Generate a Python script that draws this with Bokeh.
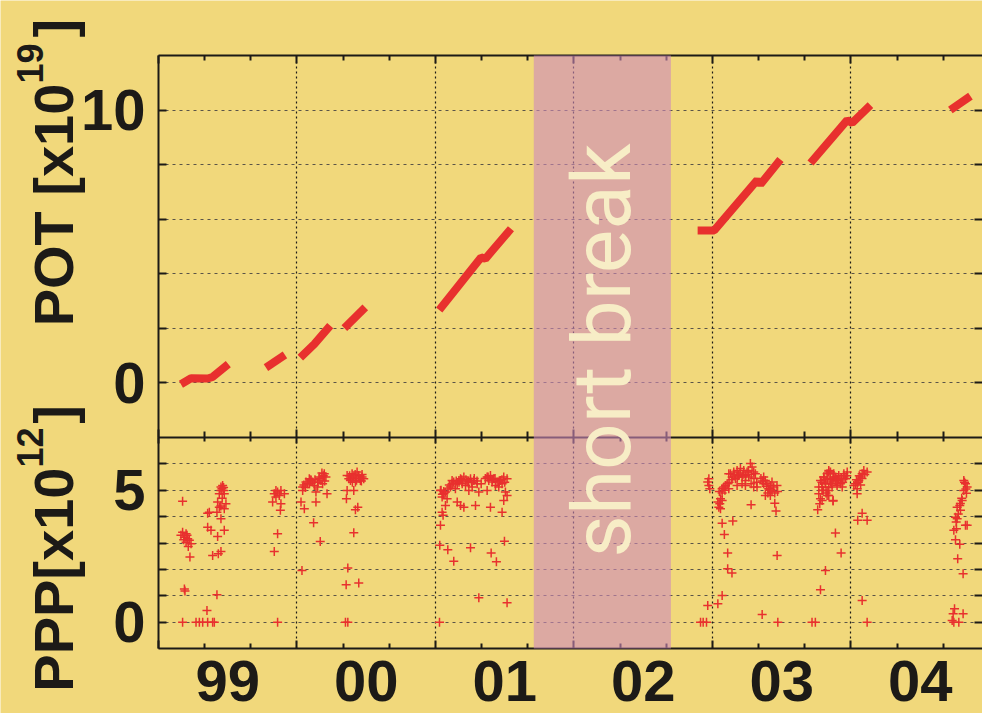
import math
from bokeh.plotting import figure
from bokeh.models import Range1d, LinearAxis, FixedTicker, Grid, BoxAnnotation, Label
from bokeh.embed import file_html
from bokeh.resources import INLINE

# ---------------------------------------------------------------- data
# accumulated protons on target [x10^19], one list per running period
pot_year = [
    [1999.162, 1999.235, 1999.355, 1999.391, 1999.504],
    [1999.776, 1999.913],
    [2000.024, 2000.125, 2000.240],
    [2000.342, 2000.493],
    [2001.027, 2001.329, 2001.360, 2001.545],
    [2002.893, 2003.013, 2003.323, 2003.347, 2003.491],
    [2003.708, 2003.973, 2004.009, 2004.141],
    [2004.718, 2004.863],
]
pot_value = [
    [-0.05, 0.17, 0.16, 0.22, 0.69],
    [0.56, 1.03],
    [0.93, 1.42, 2.10],
    [2.01, 2.77],
    [2.67, 4.60, 4.55, 5.65],
    [5.59, 5.59, 7.43, 7.28, 8.19],
    [8.06, 9.63, 9.53, 10.18],
    [10.00, 10.51],
]

# protons per pulse [x10^12]
ppp_year = [
    1999.174, 1999.174, 1999.199, 1999.187, 1999.211, 1999.223, 1999.199, 1999.235, 1999.215,
    1999.206, 1999.182, 1999.162, 1999.227, 1999.187, 1999.191,
    1999.174, 1999.271, 1999.295, 1999.319, 1999.355, 1999.391, 1999.403,
    1999.350, 1999.422, 1999.355, 1999.367, 1999.355, 1999.379, 1999.427, 1999.475, 1999.451,
    1999.391, 1999.432, 1999.451,
    1999.463, 1999.451, 1999.439, 1999.475, 1999.427, 1999.487, 1999.475, 1999.439, 1999.451,
    1999.458, 1999.470, 1999.422, 1999.460, 1999.450, 1999.470,
    1999.860, 1999.836,
    1999.836, 1999.860, 1999.884, 1999.848, 1999.824, 1999.872, 1999.909, 1999.884, 1999.880,
    1999.848, 1999.860,
    2000.036, 2000.041, 2000.029, 2000.053, 2000.041, 2000.065, 2000.089, 2000.113, 2000.125,
    2000.137, 2000.149, 2000.173, 2000.197, 2000.209, 2000.185, 2000.217, 2000.137, 2000.120,
    2000.168, 2000.077, 2000.101, 2000.161,
    2000.050, 2000.090, 2000.130, 2000.160, 2000.190, 2000.200, 2000.060, 2000.100, 2000.150,
    2000.180,
    2000.362, 2000.398, 2000.434, 2000.470, 2000.386, 2000.422, 2000.458, 2000.374, 2000.446,
    2000.410, 2000.482, 2000.362, 2000.357, 2000.410, 2000.422, 2000.439, 2000.410,
    2000.390, 2000.420, 2000.450, 2000.470, 2000.380, 2000.430, 2000.400, 2000.465,
    2000.367, 2000.355, 2000.446, 2000.350, 2000.367,
    2001.029,
    2001.036, 2001.060, 2001.048, 2001.072, 2001.084, 2001.108, 2001.132, 2001.157, 2001.181,
    2001.205, 2001.229, 2001.253, 2001.277, 2001.301, 2001.265, 2001.241, 2001.217, 2001.144,
    2001.120, 2001.169, 2001.193, 2001.313, 2001.373, 2001.397, 2001.421, 2001.445, 2001.469,
    2001.493, 2001.517, 2001.457, 2001.433, 2001.409, 2001.385, 2001.481, 2001.505, 2001.517,
    2001.493, 2001.481, 2001.397, 2001.373, 2001.289, 2001.205, 2001.157, 2001.181, 2001.072,
    2001.048, 2001.055, 2001.036, 2001.031, 2001.089, 2001.132, 2001.253, 2001.402, 2001.440,
    2001.498, 2001.313, 2001.517,
    2001.040, 2001.060, 2001.100, 2001.120, 2001.150, 2001.170, 2001.190, 2001.220, 2001.240,
    2001.260, 2001.280, 2001.300, 2001.330, 2001.360, 2001.380, 2001.410, 2001.430, 2001.460,
    2001.480, 2001.500, 2001.050, 2001.090,
    2002.974, 2002.974, 2002.981, 2002.966,
    2003.058, 2003.053, 2003.046, 2003.058, 2003.039, 2003.070,
    2003.082, 2003.094, 2003.106, 2003.070, 2003.118, 2003.130, 2003.154, 2003.178, 2003.202,
    2003.226, 2003.250, 2003.274, 2003.286, 2003.298, 2003.262, 2003.238, 2003.214, 2003.190,
    2003.166, 2003.142, 2003.118, 2003.310, 2003.322, 2003.279, 2003.238, 2003.214, 2003.178,
    2003.370, 2003.382, 2003.394, 2003.418, 2003.442, 2003.466, 2003.430, 2003.406, 2003.382,
    2003.418, 2003.450, 2003.459, 2003.279, 2003.298,
    2003.050, 2003.070, 2003.090, 2003.120, 2003.140, 2003.160, 2003.180, 2003.200, 2003.220,
    2003.240, 2003.260, 2003.280, 2003.300, 2003.320, 2003.360, 2003.390, 2003.410, 2003.430,
    2003.450, 2003.470, 2003.350, 2003.370, 2003.400,
    2003.070, 2003.147, 2003.086, 2003.110, 2003.110, 2003.141, 2003.070, 2003.039, 2002.966,
    2003.359, 2002.914, 2002.933, 2002.957, 2003.472, 2003.467,
    2003.719, 2003.743, 2003.780, 2003.816, 2003.888,
    2003.780, 2003.804, 2003.828, 2003.852, 2003.840, 2003.768, 2003.792, 2003.816, 2003.876,
    2003.900, 2003.780, 2003.775, 2003.760, 2003.828, 2003.871, 2003.768,
    2003.804, 2003.840, 2003.876, 2003.912, 2003.949, 2003.973, 2003.816, 2003.852, 2003.888,
    2003.924, 2003.961, 2003.792, 2003.828, 2003.864, 2003.900, 2003.937,
    2003.790, 2003.810, 2003.830, 2003.850, 2003.870, 2003.890, 2003.910, 2003.930, 2003.950,
    2003.970, 2003.800, 2003.840, 2003.860, 2003.900, 2003.940, 2003.820,
    2003.792, 2003.871, 2003.840, 2003.929,
    2004.081, 2004.117,
    2004.033, 2004.057, 2004.081, 2004.093, 2004.117, 2004.069, 2004.045, 2004.021, 2004.045,
    2004.040, 2004.060, 2004.080, 2004.100, 2004.050, 2004.070,
    2004.081, 2004.049, 2004.117,
    2004.815, 2004.827, 2004.839, 2004.815, 2004.834, 2004.803, 2004.786, 2004.767, 2004.791,
    2004.755, 2004.767, 2004.827, 2004.743, 2004.762, 2004.755, 2004.786, 2004.771, 2004.810,
    2004.839, 2004.820, 2004.830, 2004.800, 2004.790, 2004.775, 2004.760,
    2004.748, 2004.738, 2004.779, 2004.743, 2004.731, 2004.810,
]
ppp_value = [
    4.58, 3.41, 3.35, 3.22, 3.16, 3.10, 3.03, 2.97, 2.87,
    3.29, 3.12, 3.29, 2.47, 1.26, 1.18,
    0.00, 0.00, 0.00, 0.00, 0.00, 0.00, 0.00,
    0.44, 1.04, 4.13, 4.17, 3.60, 3.48, 3.25, 3.48, 3.92,
    2.53, 2.59, 2.68,
    5.18, 4.99, 4.87, 4.87, 4.55, 4.49, 4.30, 4.36, 5.12,
    5.06, 4.99, 4.17, 4.70, 4.40, 5.10,
    3.35, 2.68,
    4.87, 4.93, 4.99, 4.74, 4.55, 4.80, 4.87, 4.49, 4.24,
    4.99, 0.00,
    1.96, 4.99, 4.55, 4.30, 5.12, 5.31, 5.44, 5.31, 5.18,
    4.93, 5.12, 5.37, 5.63, 5.50, 5.25, 4.87, 4.55, 3.77,
    3.06, 5.25, 5.37, 5.50,
    5.20, 5.25, 5.40, 5.45, 5.55, 5.35, 5.10, 5.40, 5.30,
    5.65,
    5.56, 5.63, 5.69, 5.50, 5.37, 5.31, 5.37, 5.44, 5.56,
    5.50, 5.44, 4.99, 4.68, 4.99, 4.26, 4.36, 3.39,
    5.45, 5.60, 5.45, 5.60, 5.55, 5.38, 5.30, 5.35,
    2.05, 1.42, 1.48, 0.00, 0.00,
    0.00,
    4.99, 4.87, 4.74, 4.93, 4.68, 5.12, 5.31, 5.25, 5.44,
    5.50, 5.31, 5.44, 5.37, 5.25, 5.12, 4.99, 5.18, 5.06,
    5.37, 5.37, 5.25, 4.93, 5.50, 5.56, 5.44, 5.31, 5.37,
    5.50, 5.44, 5.12, 5.18, 5.31, 5.37, 5.25, 4.93, 4.80,
    4.61, 4.17, 4.36, 4.99, 4.42, 4.36, 4.55, 4.42, 4.42,
    4.17, 4.05, 3.67, 2.91, 2.74, 2.31, 2.82, 2.62, 2.29,
    3.07, 0.92, 0.73,
    5.00, 4.95, 5.20, 5.25, 5.35, 5.30, 5.40, 5.40, 5.35,
    5.30, 5.45, 5.35, 5.25, 5.45, 5.50, 5.40, 5.45, 5.35,
    5.40, 5.30, 4.85, 5.05,
    5.44, 5.18, 5.06, 5.31,
    4.68, 4.49, 4.36, 4.30, 4.55, 4.61,
    5.12, 5.18, 5.25, 5.06, 5.06, 5.63, 5.69, 5.75, 5.82,
    5.75, 5.69, 6.01, 5.88, 5.69, 5.50, 5.37, 5.50, 5.56,
    5.44, 5.50, 5.63, 5.63, 5.12, 5.25, 5.18, 5.25, 5.18,
    5.50, 5.37, 5.25, 5.18, 5.12, 5.18, 5.31, 5.06, 4.80,
    4.80, 4.51, 4.21, 4.45, 5.12,
    4.95, 4.90, 5.00, 5.30, 5.40, 5.60, 5.50, 5.65, 5.60,
    5.55, 5.75, 5.60, 5.45, 5.30, 5.35, 5.15, 5.00, 4.95,
    4.90, 4.95, 5.45, 5.25, 4.90,
    3.75, 3.83, 3.32, 2.62, 2.02, 1.86, 1.01, 0.70, 0.63,
    0.29, 0.00, 0.00, 0.00, 0.00, 2.53,
    0.00, 0.00, 1.23, 1.96, 3.38,
    5.37, 5.50, 5.63, 5.69, 5.75, 5.12, 4.99, 5.25, 5.50,
    5.37, 4.68, 4.49, 4.26, 4.80, 4.61, 4.87,
    5.50, 5.69, 5.63, 5.56, 5.63, 5.69, 5.25, 5.31, 5.37,
    5.25, 5.44, 5.12, 4.99, 5.12, 5.18, 5.12,
    5.30, 5.40, 5.45, 5.40, 5.45, 5.50, 5.40, 5.45, 5.50,
    5.55, 5.00, 5.10, 5.25, 5.25, 5.30, 4.90,
    4.61, 4.59, 4.80, 2.62,
    0.82, 0.00,
    5.25, 5.37, 5.63, 5.75, 5.69, 5.50, 5.06, 5.18, 4.87,
    5.40, 5.55, 5.45, 5.60, 5.30, 5.20,
    4.13, 3.86, 3.86,
    5.37, 5.25, 5.12, 4.99, 4.89, 4.61, 4.42, 4.36, 4.24,
    3.98, 3.92, 3.67, 3.48, 3.54, 3.12, 2.95, 2.40, 1.83,
    3.67, 5.30, 5.05, 4.70, 4.50, 4.10, 3.80,
    0.51, 0.32, 0.00, 0.00, 0.06, 0.32,
]

# x axis: year boundaries, four-month minor ticks, labels mid-year
year_edges = [1999, 2000, 2001, 2002, 2003, 2004, 2005]
year_thirds = [y + f for y in year_edges[:-1] for f in (1 / 3, 2 / 3)]
year_label_pos = [1999.5, 2000.5, 2001.5, 2002.5, 2003.5, 2004.5]
year_labels = ["99", "00", "01", "02", "03", "04"]

# shutdown period
break_start, break_end = 2001.71, 2002.70

# y axes
pot_labelled = [0, 10]
pot_unlabelled = [2, 4, 6, 8]
ppp_labelled = [0, 5]
ppp_unlabelled = [1, 2, 3, 4, 6]

# ---------------------------------------------------------------- style
RED = "#e8302e"
BG = "#f1d87b"
INK = "#1c1a17"
GRID = "#5a5448"
FONT = "Liberation Sans"

W, H = 982, 713
LEFT, TOP, BOTTOM = 158, 55, 65          # margins around the two panels, px
TOP_PANEL, BOTTOM_PANEL = 382, 211       # panel heights, px
PANEL_W = W - LEFT

x_lo, x_hi = 1999.0, 2004.95
pot_lo, pot_hi = -2, 12
ppp_lo, ppp_hi = -1, 7


def padded(lo, hi, span_px, below_px, above_px):
    """Range whose [lo, hi] part occupies span_px of the canvas."""
    per_px = (hi - lo) / span_px
    return Range1d(lo - below_px * per_px, hi + above_px * per_px)


# the frame is the whole canvas; each panel is placed by its own range
x_range = padded(x_lo, x_hi, PANEL_W, LEFT, 0)
pot_range = padded(pot_lo, pot_hi, TOP_PANEL, H - TOP - TOP_PANEL, TOP)
ppp_range = padded(ppp_lo, ppp_hi, BOTTOM_PANEL, BOTTOM, H - BOTTOM - BOTTOM_PANEL)
panel_floor = pot_lo - BOTTOM_PANEL * (pot_hi - pot_lo) / TOP_PANEL   # lower panel bottom, POT units

p = figure(width=W, height=H, x_range=x_range, y_range=pot_range,
           x_axis_location=None, y_axis_location=None,
           output_backend="svg", toolbar_location=None,
           min_border_left=0, min_border_right=0, min_border_top=0, min_border_bottom=0,
           background_fill_color=BG, border_fill_color=BG, outline_line_color=None)
p.center = []
p.extra_y_ranges = {"ppp": ppp_range}

# ---------------------------------------------------------------- grids
grid_style = dict(grid_line_color=GRID, grid_line_dash="3 4", grid_line_width=1,
                  minor_grid_line_color=GRID, minor_grid_line_dash="3 4",
                  minor_grid_line_width=1, cross_bounds=(x_lo, x_hi))
p.add_layout(Grid(dimension=1, ticker=FixedTicker(ticks=pot_labelled, minor_ticks=pot_unlabelled),
                  **grid_style), "center")
p.add_layout(Grid(dimension=1, y_range_name="ppp",
                  ticker=FixedTicker(ticks=ppp_labelled, minor_ticks=ppp_unlabelled),
                  **grid_style), "center")
p.add_layout(Grid(dimension=0, ticker=FixedTicker(ticks=year_edges[1:-1]),
                  cross_bounds=(panel_floor, pot_hi),
                  grid_line_color=INK, grid_line_dash="2 3", grid_line_width=1.2), "center")

# ---------------------------------------------------------------- data marks
p.multi_line(xs=pot_year, ys=pot_value, line_color=RED, line_width=8)
p.scatter(x=ppp_year, y=ppp_value, y_range_name="ppp", marker="cross", size=9,
          line_color=RED, line_width=1.5)


# ---------------------------------------------------------------- axes
def tick_axis(side, fixed, ticks, tick_in, tick_out, bounds, y_range_name="default", line=True):
    ax = LinearAxis(ticker=FixedTicker(ticks=[], minor_ticks=ticks),
                    fixed_location=fixed, y_range_name=y_range_name, bounds=bounds,
                    minor_tick_in=tick_in, minor_tick_out=tick_out,
                    minor_tick_line_color=INK, minor_tick_line_width=2,
                    major_tick_line_color=None,
                    axis_line_color=INK if line else None, axis_line_width=2)
    p.add_layout(ax, side)


xb = (x_lo, x_hi)
# top of the upper panel, the divider between panels, bottom of the lower panel
tick_axis("above", pot_hi, year_edges, 8, 0, xb)
tick_axis("above", pot_hi, year_thirds, 5, 0, xb, line=False)
tick_axis("below", pot_lo, year_edges, 8, 6, xb)
tick_axis("below", pot_lo, year_thirds, 6, 4, xb, line=False)
tick_axis("below", ppp_lo, year_edges, 8, 0, xb, y_range_name="ppp")
tick_axis("below", ppp_lo, year_thirds, 5, 0, xb, y_range_name="ppp", line=False)

# right edge
tick_axis("right", x_hi, pot_labelled + pot_unlabelled, 8, 0, (pot_lo, pot_hi), line=False)
tick_axis("right", x_hi, ppp_labelled + ppp_unlabelled, 8, 0, (ppp_lo, ppp_hi),
          y_range_name="ppp", line=False)

label_style = dict(major_label_text_font=FONT, major_label_text_font_size="58px",
                   major_label_text_font_style="bold", major_label_text_color=INK)

for rng, lab, unlab, bnd in (("default", pot_labelled, pot_unlabelled, (pot_lo, pot_hi)),
                             ("ppp", ppp_labelled, ppp_unlabelled, (ppp_lo, ppp_hi))):
    ax = LinearAxis(ticker=FixedTicker(ticks=lab, minor_ticks=unlab),
                    fixed_location=x_lo, y_range_name=rng, bounds=bnd,
                    major_tick_in=8, major_tick_out=0, minor_tick_in=8, minor_tick_out=0,
                    major_tick_line_color=INK, minor_tick_line_color=INK,
                    major_tick_line_width=2, minor_tick_line_width=2,
                    axis_line_color=INK, axis_line_width=2,
                    major_label_standoff=13, **label_style)
    p.add_layout(ax, "left")

year_axis = LinearAxis(ticker=FixedTicker(ticks=year_label_pos),
                       fixed_location=ppp_lo, y_range_name="ppp", bounds=xb,
                       major_label_overrides=dict(zip(year_label_pos, year_labels)),
                       major_tick_in=0, major_tick_out=0,
                       major_tick_line_color=None, minor_tick_line_color=None,
                       axis_line_color=None, major_label_standoff=12, **label_style)
p.add_layout(year_axis, "below")

# ---------------------------------------------------------------- break band
p.add_layout(BoxAnnotation(left=break_start, right=break_end, top=pot_hi, bottom=panel_floor,
                           fill_color="#ce8bbd", fill_alpha=0.6, line_color=None,
                           level="annotation"))
p.add_layout(Label(x=2002.199, y=1.19, text="short break", angle=math.pi / 2,
                   text_align="center", text_baseline="middle",
                   text_font="Roboto", text_font_size="82px",
                   text_color="#f7edc6", level="overlay"))

# ---------------------------------------------------------------- axis titles
title_style = dict(x=x_lo, angle=math.pi / 2, text_baseline="middle", text_font=FONT,
                   text_font_style="bold", text_color=INK)
p.add_layout(Label(x_offset=-105, y=10.97, text="POT [x10", text_align="right",
                   text_font_size="56px", **title_style))
p.add_layout(Label(x_offset=-129, y=10.97, text="19", text_align="left",
                   text_font_size="36px", **title_style))
p.add_layout(Label(x_offset=-105, y=12.66, text="]", text_align="left",
                   text_font_size="56px", **title_style))

p.add_layout(Label(x_offset=-105, y=5.86, y_range_name="ppp", text="PPP[x10",
                   text_align="right", text_font_size="56px", **title_style))
p.add_layout(Label(x_offset=-129, y=5.86, y_range_name="ppp", text="12",
                   text_align="left", text_font_size="36px", **title_style))
p.add_layout(Label(x_offset=-105, y=7.52, y_range_name="ppp", text="]",
                   text_align="left", text_font_size="56px", **title_style))

open("out.html", "w").write(file_html(p, INLINE))
